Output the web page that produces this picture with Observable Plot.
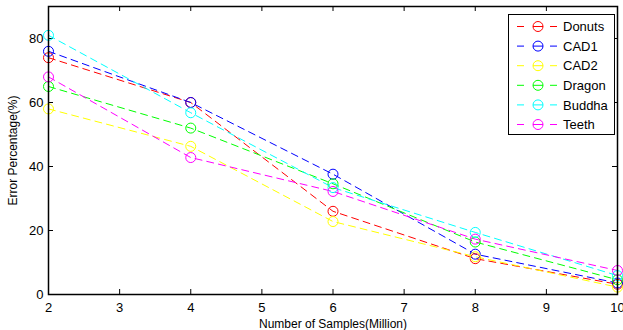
<!DOCTYPE html>
<html><head><meta charset="utf-8">
<script src="https://cdn.jsdelivr.net/npm/d3@7"></script>
<script src="https://cdn.jsdelivr.net/npm/@observablehq/plot@0.6"></script>
<style>
body{margin:0;background:#fff;font-family:"Liberation Sans",Arial,sans-serif}
#wrap{position:relative;width:623px;height:330px}
#legend{position:absolute;left:508px;top:14px}
</style>
</head><body><div id="wrap"></div>
<script>
const samples = [2, 4, 6, 8, 10];
const seriesNames = ["Donuts", "CAD1", "CAD2", "Dragon", "Buddha", "Teeth"];
const seriesColors = ["#ff0000", "#0000ff", "#ffff00", "#00ff00", "#00ffff", "#ff00ff"];
const donuts = [74, 60, 26, 11.2, 3.2];
const cad1   = [76, 60, 37.6, 12.6, 3.6];
const cad2   = [58, 46.3, 22.8, 11.8, 2.3];
const dragon = [65, 52, 34.6, 16.4, 4.6];
const buddha = [81, 56.8, 33.4, 19.4, 5.9];
const teeth  = [68, 42.8, 32.2, 17.3, 7.5];
const xTicks = [2, 3, 4, 5, 6, 7, 8, 9, 10];
const yTicks = [0, 20, 40, 60, 80];

const seriesValues = [donuts, cad1, cad2, dragon, buddha, teeth];
const data = seriesNames.flatMap((name, i) =>
  samples.map((x, j) => ({series: name, color: seriesColors[i], x, y: seriesValues[i][j]})));

const W = 623, H = 330, mL = 48, mR = 6, mT = 6, mB = 36, tick = 5;
const innerW = W - mL - mR, innerH = H - mT - mB;
const font = '"Liberation Sans", Arial, sans-serif';
const chart = Plot.plot({
  width: W, height: H,
  marginLeft: mL, marginRight: mR, marginTop: mT, marginBottom: mB,
  style: {fontFamily: font, fontSize: "13px", color: "#000", background: "#fff"},
  x: {domain: [2, 10]},
  y: {domain: [0, 90]},
  marks: [
    Plot.axisX({ticks: xTicks, tickSize: 0, tickPadding: 8, fontSize: 13, label: "Number of Samples(Million)", labelAnchor: "center", labelOffset: 33, labelArrow: "none"}),
    Plot.axisY({ticks: yTicks, tickSize: 0, tickPadding: 5, fontSize: 13, label: "Error Percentage(%)", labelAnchor: "center", labelOffset: 40, labelArrow: "none"}),
    // inward ticks on all four sides
    Plot.ruleX(xTicks, {x: d => d, insetTop: innerH - tick, stroke: "#000"}),
    Plot.ruleX(xTicks, {x: d => d, insetBottom: innerH - tick, stroke: "#000"}),
    Plot.ruleY(yTicks, {y: d => d, insetRight: innerW - tick, stroke: "#000"}),
    Plot.ruleY(yTicks, {y: d => d, insetLeft: innerW - tick, stroke: "#000"}),
    ...seriesNames.map((name, i) => Plot.line(data.filter(d => d.series === name), {
      x: "x", y: "y", stroke: seriesColors[i], strokeWidth: 1, strokeDasharray: "7,5"})),
    ...seriesNames.map((name, i) => Plot.dot(data.filter(d => d.series === name), {
      x: "x", y: "y", r: 5, stroke: seriesColors[i], fill: "none", strokeWidth: 1})),
    Plot.frame({stroke: "#000", strokeWidth: 1.5})
  ]
});
d3.select(chart).selectAll("g[aria-label='x-axis label'] text, g[aria-label='y-axis label'] text").style("font-size", "12px");
const wrap = document.getElementById("wrap");
wrap.appendChild(chart);

// legend
const lw = 107, lh = 121, rowH = 19.6;
const leg = d3.create("svg").attr("id", "legend").attr("width", lw).attr("height", lh);
leg.append("rect").attr("x", 0.5).attr("y", 0.5).attr("width", lw - 1).attr("height", lh - 1)
  .attr("fill", "#fff").attr("stroke", "#000").attr("stroke-width", 1);
seriesNames.forEach((name, i) => {
  const cy = 12.5 + i * rowH;
  const g = leg.append("g").attr("transform", `translate(0,${cy})`);
  g.append("line").attr("x1", 9).attr("x2", 16).attr("stroke", seriesColors[i]);
  g.append("line").attr("x1", 42).attr("x2", 49).attr("stroke", seriesColors[i]);
  g.append("line").attr("x1", 25).attr("x2", 35).attr("stroke", seriesColors[i]);
  g.append("circle").attr("cx", 30).attr("r", 5).attr("fill", "none").attr("stroke", seriesColors[i]);
  g.append("text").attr("x", 55).attr("dy", "0.36em").attr("font-family", font).attr("font-size", 13).text(name);
});
wrap.appendChild(leg.node());
</script>
</body></html>
